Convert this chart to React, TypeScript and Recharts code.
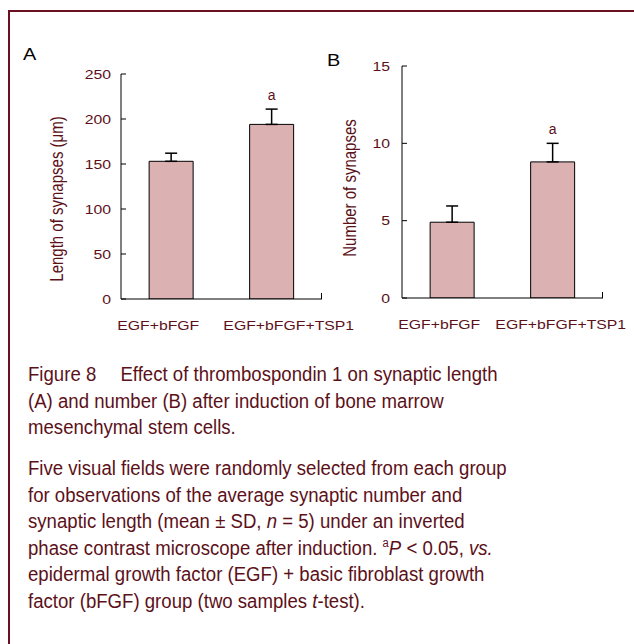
import { Bar, BarChart, ErrorBar, LabelList, XAxis, YAxis } from "recharts";

// panel A: length of synapses (μm)
const groups = ["EGF+bFGF", "EGF+bFGF+TSP1"];
const lengthMean = [153, 194];
const lengthSd = [9, 17];
// panel B: number of synapses
const numberMean = [4.9, 8.8];
const numberSd = [1.05, 1.2];
const sigMarks = ["", "a"];

const lengthTicks = [0, 50, 100, 150, 200, 250];
const numberTicks = [0, 5, 10, 15];

const lengthData = groups.map((g, i) => ({
  group: g,
  mean: lengthMean[i],
  sd: lengthSd[i],
  sig: sigMarks[i],
}));
const numberData = groups.map((g, i) => ({
  group: g,
  mean: numberMean[i],
  sd: numberSd[i],
  sig: sigMarks[i],
}));

const MAROON = "#5c1119";
const FRAME = "#6b1020";
const BAR_FILL = "#dbb1b1";
const FONT = "Arial, 'Liberation Sans', sans-serif";
// the source figure is stretched horizontally a little
const STRETCH = 1.17;

const YTick = (props: any) => {
  const { x, y, payload } = props;
  return (
    <text
      transform={`translate(${x},${y}) scale(${STRETCH},1)`}
      textAnchor="end"
      dy="0.355em"
      fill={MAROON}
      fontSize={13.5}
      fontFamily={FONT}
    >
      {payload.value}
    </text>
  );
};

const makeXTick = (shifts: number[]) => (props: any) => {
  const { x, y, payload, index } = props;
  return (
    <text
      transform={`translate(${x + (shifts[index] ?? 0)},${y}) scale(${STRETCH},1)`}
      textAnchor="middle"
      dy="0.71em"
      fill={MAROON}
      fontSize={13.5}
      fontFamily={FONT}
    >
      {payload.value}
    </text>
  );
};

type PanelProps = {
  data: typeof lengthData;
  ticks: number[];
  max: number;
  width: number;
  height: number;
  margin: { top: number; right: number; bottom: number; left: number };
  tickGap: number;
  labelShift: number[];
};

function Panel({ data, ticks, max, width, height, margin, tickGap, labelShift }: PanelProps) {
  return (
    <BarChart
      width={width}
      height={height}
      data={data}
      margin={margin}
      barCategoryGap="28%"
    >
      <XAxis
        dataKey="group"
        height={30}
        tickLine={false}
        axisLine={{ stroke: "#000" }}
        tick={makeXTick(labelShift)}
        tickMargin={15}
        interval={0}
      />
      <YAxis
        width={60}
        domain={[0, max]}
        ticks={ticks}
        allowDataOverflow
        axisLine={{ stroke: "#000" }}
        tickLine={{ stroke: "#000" }}
        tickSize={-5}
        tickMargin={tickGap}
        tick={<YTick />}
      />
      <Bar
        dataKey="mean"
        stackId="s"
        fill={BAR_FILL}
        stroke="#000"
        strokeWidth={1}
        isAnimationActive={false}
      >
        <ErrorBar
          dataKey={(d: { sd: number }) => [0, d.sd]}
          direction="y"
          width={6}
          stroke="#000"
          strokeWidth={1.5}
        />
      </Bar>
      {/* invisible segment up to the error bar top, carries the significance mark */}
      <Bar dataKey="sd" stackId="s" fill="none" isAnimationActive={false}>
        <LabelList
          dataKey="sig"
          position="top"
          offset={9}
          fill={MAROON}
          fontSize={14}
          fontFamily={FONT}
        />
      </Bar>
    </BarChart>
  );
}

const captionStyle = {
  position: "absolute" as const,
  left: 28,
  fontFamily: FONT,
  fontSize: 20,
  color: MAROON,
  whiteSpace: "nowrap" as const,
  transform: "scaleX(0.93)",
  transformOrigin: "0 0",
};

export default function App() {
  return (
    <div
      style={{
        position: "absolute",
        left: 0,
        top: 0,
        width: 634,
        height: 644,
        overflow: "hidden",
        background: "#fff",
        fontFamily: FONT,
      }}
    >
      <div
        style={{
          position: "absolute",
          left: 8,
          top: 10,
          width: 700,
          height: 700,
          borderTop: `2px solid ${FRAME}`,
          borderLeft: `2px solid ${FRAME}`,
        }}
      />

      <div style={{ position: "absolute", left: 23, top: 45, fontSize: 17, color: "#000", transform: `scaleX(${STRETCH})`, transformOrigin: "0 0" }}>
        A
      </div>
      <div style={{ position: "absolute", left: 327, top: 51, fontSize: 17, color: "#000", transform: `scaleX(${STRETCH})`, transformOrigin: "0 0" }}>
        B
      </div>

      <div style={{ position: "absolute", left: 0, top: 0 }}>
        <Panel
          data={lengthData}
          ticks={lengthTicks}
          max={250}
          width={370}
          height={340}
          margin={{ top: 74, right: 48, bottom: 11, left: 61 }}
          tickGap={15}
          labelShift={[-13, 17]}
        />
      </div>
      <div style={{ position: "absolute", left: 320, top: 0 }}>
        <Panel
          data={numberData}
          ticks={numberTicks}
          max={15}
          width={314}
          height={340}
          margin={{ top: 66, right: 31, bottom: 12, left: 22 }}
          tickGap={17}
          labelShift={[-13, 8]}
        />
      </div>

      {/* x-axis end ticks */}
      <div style={{ position: "absolute", left: 321, top: 293, width: 1, height: 6, background: "#000" }} />
      <div style={{ position: "absolute", left: 602, top: 292, width: 1, height: 6, background: "#000" }} />

      {/* axis titles */}
      <div
        style={{
          position: "absolute",
          left: 57,
          top: 199,
          transform: `translate(-50%, -50%) rotate(-90deg) scaleY(${STRETCH})`,
          whiteSpace: "nowrap",
          fontSize: 15,
          color: MAROON,
        }}
      >
        Length of synapses (μm)
      </div>
      <div
        style={{
          position: "absolute",
          left: 350,
          top: 188,
          transform: `translate(-50%, -50%) rotate(-90deg) scaleY(${STRETCH})`,
          whiteSpace: "nowrap",
          fontSize: 15,
          color: MAROON,
        }}
      >
        Number of synapses
      </div>

      <div style={{ ...captionStyle, top: 361, lineHeight: "26.5px" }}>
        <div>
          Figure 8<span style={{ display: "inline-block", width: 26 }} />Effect of thrombospondin 1 on synaptic length
        </div>
        <div>(A) and number (B) after induction of bone marrow</div>
        <div>mesenchymal stem cells.</div>
      </div>

      <div style={{ ...captionStyle, top: 455, lineHeight: "26.6px" }}>
        <div>Five visual fields were randomly selected from each group</div>
        <div>for observations of the average synaptic number and</div>
        <div>
          synaptic length (mean ± SD, <i>n</i> = 5) under an inverted
        </div>
        <div>
          phase contrast microscope after induction. <sup style={{ fontSize: 12, lineHeight: 0 }}>a</sup>
          <i>P</i> &lt; 0.05, <i>vs.</i>
        </div>
        <div>epidermal growth factor (EGF) + basic fibroblast growth</div>
        <div>
          factor (bFGF) group (two samples <i>t</i>-test).
        </div>
      </div>
    </div>
  );
}
